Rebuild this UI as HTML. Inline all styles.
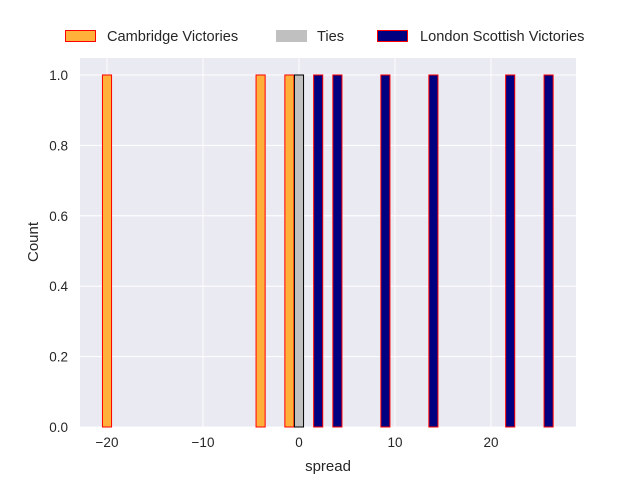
<!DOCTYPE html>
<html><head><meta charset="utf-8"><style>
body{margin:0;background:#fff;font-family:"Liberation Sans",sans-serif;}
svg text{font-family:"Liberation Sans",sans-serif;fill:#262626;}
</style></head><body>
<svg width="640" height="480">
<rect x="80" y="58" width="496" height="369" fill="#eaeaf2"/>
<g id="grid"></g><g id="bars"></g><g id="ticks"></g>
<text x="328" y="471" text-anchor="middle" font-size="15">spread</text>
<text x="38" y="242" text-anchor="middle" font-size="15" transform="rotate(-90 38 242)">Count</text>
<g>
<g><rect x="65.5" y="30.5" width="30" height="11" fill="#ffb03b" stroke="#ff0000"/><text x="107" y="41" font-size="14.6">Cambridge Victories</text></g>
<g><rect x="276" y="30" width="31" height="12" fill="#c0c0c0"/><text x="317" y="41" font-size="14.6">Ties</text></g>
<g><rect x="377.5" y="30.5" width="30" height="11" fill="#000080" stroke="#ff0000"/><text x="420" y="41" font-size="14.6">London Scottish Victories</text></g>
</g>
</svg>
<script>
const cambridgeSpreads=[-20,-4,-1];
const tieSpreads=[0];
const londonSpreads=[2,4,9,14,22,26];
const counts={c:[1,1,1],t:[1],l:[1,1,1,1,1,1]};
const xTicks=[-20,-10,0,10,20];
const yTicks=[0,0.2,0.4,0.6,0.8,1.0];
const NS="http://www.w3.org/2000/svg";
const xs=v=>299+v*9.6, ys=v=>427-v*352;
function mk(t,a,p){const e=document.createElementNS(NS,t);for(const k in a)e.setAttribute(k,a[k]);p.appendChild(e);return e;}
const g=document.getElementById('grid'),b=document.getElementById('bars'),tk=document.getElementById('ticks');
xTicks.forEach(v=>{const l=mk('line',{x1:xs(v),x2:xs(v),y1:58,y2:427,stroke:'#fff','stroke-width':1},g);

const t=mk('text',{x:xs(v),y:447,'text-anchor':'middle','font-size':13.5},tk);t.textContent=v<0?'\u2212'+(-v):v;
});
yTicks.forEach(v=>{const l=mk('line',{x1:80,x2:576,y1:ys(v),y2:ys(v),stroke:'#fff','stroke-width':1},g);

const t=mk('text',{x:68,y:ys(v)+5,'text-anchor':'end','font-size':13.5},tk);t.textContent=v.toFixed(1);
});
function bars(arr,cnt,fill,stroke,name){arr.forEach((v,i)=>{const w=9.1;
const r=mk('rect',{x:xs(v)-w/2,y:ys(cnt[i]),width:w,height:ys(0)-ys(cnt[i]),fill:fill,stroke:stroke,'stroke-width':1},b);
});}
bars(cambridgeSpreads,counts.c,'#ffb03b','#ff0000','bar-cambridge');
bars(tieSpreads,counts.t,'#c0c0c0','#000000','bar-tie');
bars(londonSpreads,counts.l,'#000080','#ff0000','bar-london');
</script>
</body></html>
